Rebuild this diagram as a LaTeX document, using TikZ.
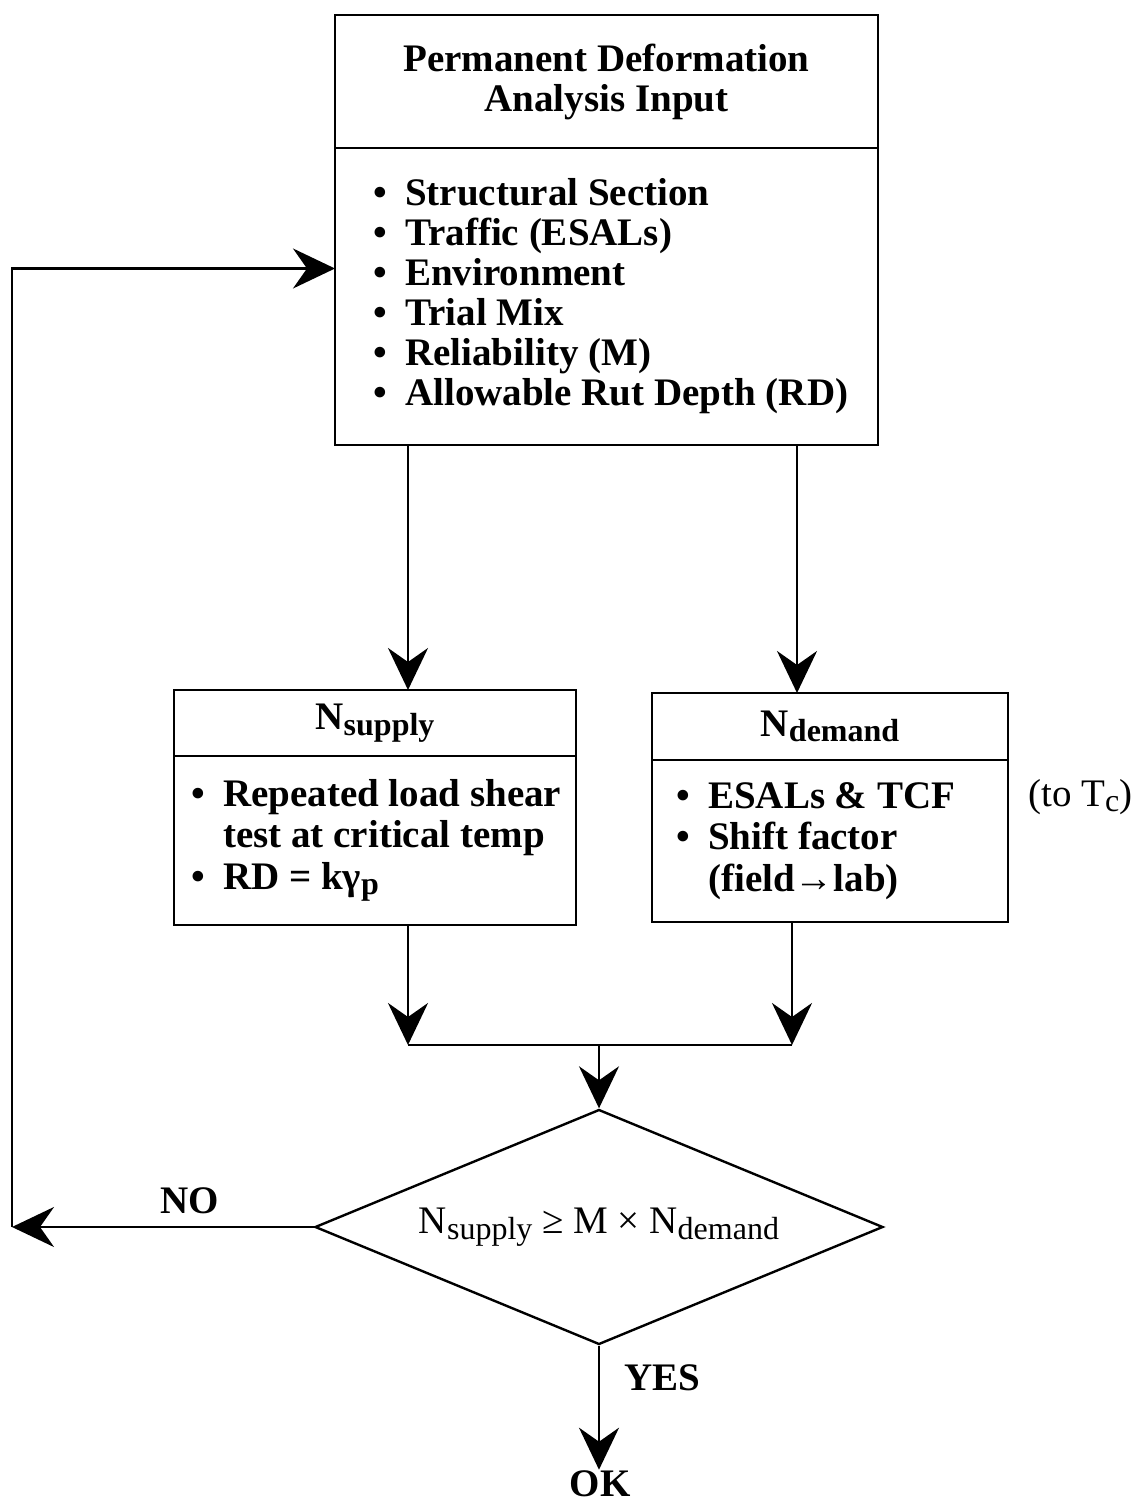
\documentclass[tikz,border=0pt]{standalone}
\usepackage{fontspec}
\setmainfont{Liberation Serif}
\usetikzlibrary{positioning,shapes.geometric,arrows.meta}
\newcommand{\lowsub}[1]{\raisebox{-0.3ex}{\fontsize{16}{16}\selectfont #1}}
\newcommand{\bul}{\makebox[16pt][l]{\textbullet}}

\begin{document}
\begin{tikzpicture}[x=0.5pt,y=-0.5pt,line width=1.2pt,
  >={Stealth[length=21pt,width=20pt,inset=7pt]},
  font=\fontsize{19.5}{20}\selectfont\bfseries]
\useasboundingbox (0,0) rectangle (1141,1508);
\tikzset{box/.style={draw,outer sep=0,inner sep=0},
  txt/.style={anchor=west,inner sep=0,align=left},
  plain/.style={font=\fontsize{19.5}{20}\selectfont\mdseries}}

% input box
\node[box,minimum width=271.5pt,minimum height=66.5pt,align=center] (in1) at (606.5,81.5) {Permanent Deformation\\Analysis Input};
\node[box,minimum width=271.5pt,minimum height=148.5pt,below=0pt of in1] (in2) {};
\node[txt] (in2t) at ([xshift=18.5pt]in2.west) {\bul Structural Section\\\bul Traffic (ESALs)\\\bul Environment\\\bul Trial Mix\\\bul Reliability (M)\\\bul Allowable Rut Depth (RD)};

% supply and demand
\node[box,minimum width=201pt,minimum height=33pt] (sup1) at (375,723) {N\lowsub{supply}};
\node[box,minimum width=201pt,minimum height=84.5pt,below=0pt of sup1] (sup2) {};
\node[txt,font=\fontsize{19.5}{20.7}\selectfont\bfseries] (sup2t) at ([xshift=8pt]sup2.west) {\bul Repeated load shear\\\hspace*{16pt}test at critical temp\\\bul RD = kγ\lowsub{p}};

\node[box,minimum width=178pt,minimum height=33.5pt] (dem1) at (830,726.5) {N\lowsub{demand}};
\node[box,minimum width=178pt,minimum height=81pt,below=0pt of dem1] (dem2) {};
\node[txt,font=\fontsize{19.5}{20.7}\selectfont\bfseries] (dem2t) at ([xshift=11.5pt]dem2.west) {\bul ESALs \& TCF\\\bul Shift factor\\\hspace*{16pt}(field→lab)};
\node[txt,plain] (totc) at ([xshift=9.5pt,yshift=22pt]dem2.east) {(to T\lowsub{c})};

% check
\node[draw,diamond,aspect=2.42,minimum width=284pt,minimum height=117.5pt,inner sep=0,plain] (dec) at (599,1227) {N\lowsub{supply} ≥ M × N\lowsub{demand}};
\node[inner sep=0] (ok) at (600,1484) {OK};

\coordinate (no) at (12,1227);
\coordinate (jl) at (408,1045);
\coordinate (jr) at (792,1045);

\draw[->] ([xshift=-99.25pt]in2.south) -- ([xshift=-99.25pt]in2.south |- sup1.north);
\draw[->] ([xshift=95.25pt]in2.south) -- ([xshift=95.25pt]in2.south |- dem1.north);
\draw[->] (sup2.south -| jl) -- (jl);
\draw[->] (dem2.south -| jr) -- (jr);
\draw (jl) -- (jr);
\draw[->] (dec.north |- jl) -- (dec.north);
\draw[->] (dec.west) -- node[above=6pt,pos=0.41,inner sep=0] {NO} (no);
\draw[->] (no) |- ([yshift=14pt]in2.west);
\draw[->] (dec.south) -- node[right=12pt,pos=0.26,inner sep=0] {YES} (dec.south |- ok.north);
\end{tikzpicture}
\end{document}
